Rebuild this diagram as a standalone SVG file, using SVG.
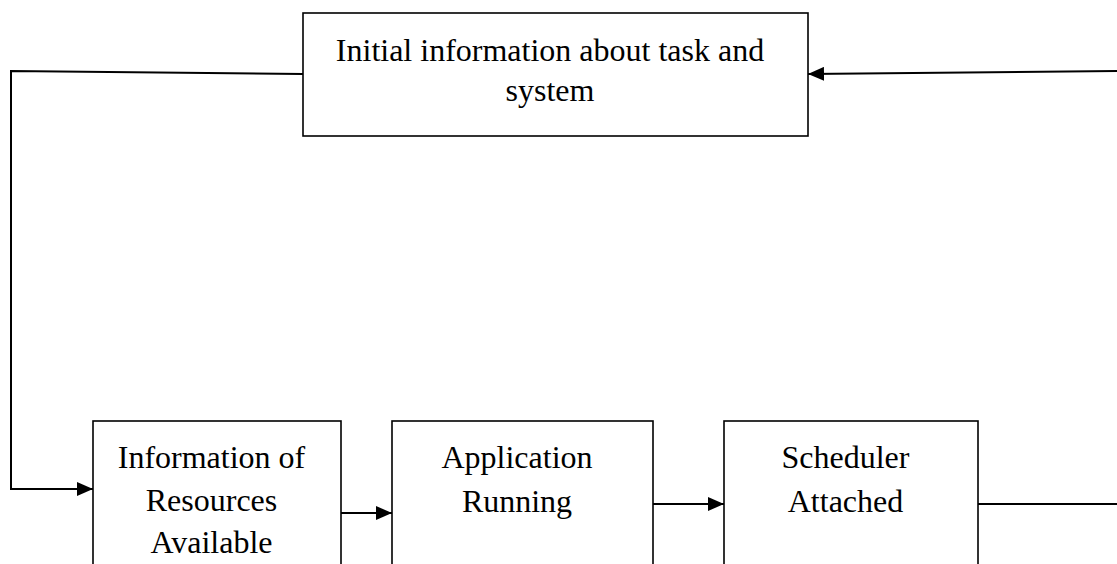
<svg xmlns="http://www.w3.org/2000/svg" width="1117" height="564" viewBox="0 0 1117 564">
<style>
.box{fill:#fff;stroke:#000;stroke-width:1.6}
.lbl{font-family:"Liberation Serif","Times New Roman",serif;font-size:32px;fill:#000;text-anchor:middle}
.con{fill:none;stroke:#000;stroke-width:2}
</style>
<defs>
<marker id="ah" markerUnits="userSpaceOnUse" markerWidth="16" markerHeight="14" refX="16" refY="7" orient="auto">
<path d="M0,0 L16,7 L0,14 Z" fill="#000"/>
</marker>
</defs>
<rect width="1117" height="564" fill="#fff"/>
<g id="connectors">
<polyline class="con" points="303,74 11,71 11,489 93,489" marker-end="url(#ah)"/>
<line class="con" x1="1117" y1="71" x2="808" y2="74" marker-end="url(#ah)"/>
<line class="con" x1="341" y1="513" x2="392" y2="513" marker-end="url(#ah)"/>
<line class="con" x1="653" y1="504" x2="724" y2="504" marker-end="url(#ah)"/>
<line class="con" x1="978" y1="504" x2="1117" y2="504"/>
</g>
<g id="node-initial">
<rect class="box" x="303" y="13" width="505" height="123"/>
<text class="lbl" x="550" y="61">Initial information about task and</text>
<text class="lbl" x="550" y="101">system</text>
</g>
<g id="node-resources">
<rect class="box" x="93" y="421" width="248" height="160"/>
<text class="lbl" x="211.5" y="468">Information of</text>
<text class="lbl" x="211.5" y="511">Resources</text>
<text class="lbl" x="211.5" y="553">Available</text>
</g>
<g id="node-application">
<rect class="box" x="392" y="421" width="261" height="160"/>
<text class="lbl" x="517" y="468">Application</text>
<text class="lbl" x="517" y="512">Running</text>
</g>
<g id="node-scheduler">
<rect class="box" x="724" y="421" width="254" height="160"/>
<text class="lbl" x="845.5" y="468">Scheduler</text>
<text class="lbl" x="845.5" y="512">Attached</text>
</g>
</svg>
